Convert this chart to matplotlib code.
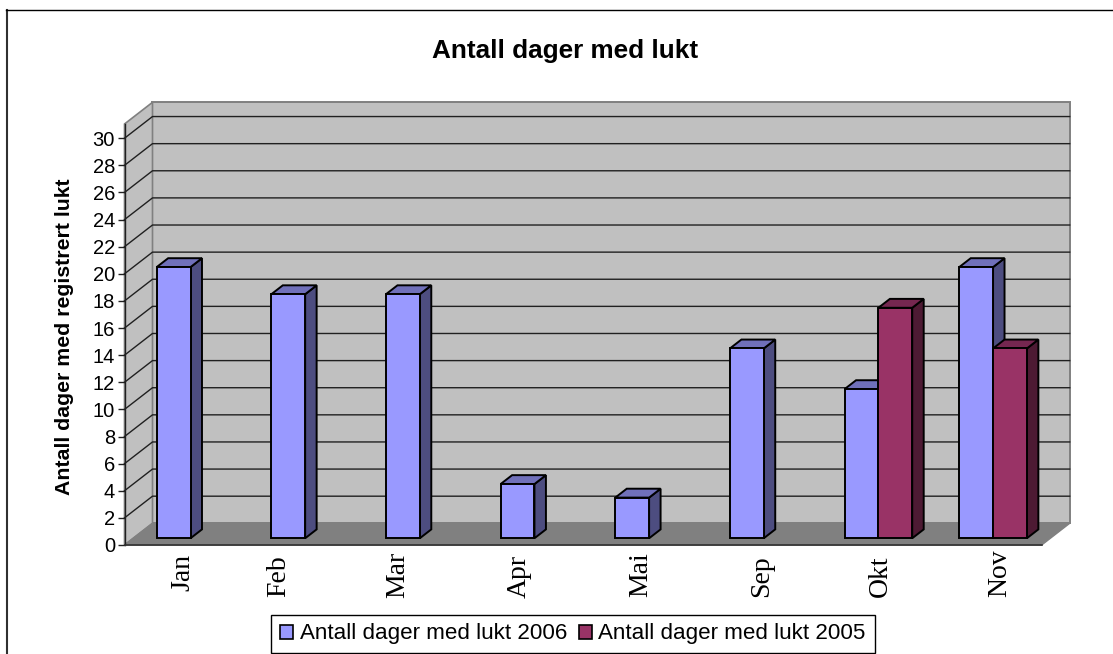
import matplotlib
matplotlib.use("Agg")
import matplotlib.pyplot as plt
from matplotlib.patches import Polygon, Patch
from matplotlib.lines import Line2D
from matplotlib.transforms import ScaledTranslation

months = ["Jan", "Feb", "Mar", "Apr", "Mai", "Sep", "Okt", "Nov"]
days_2006 = [20, 18, 18, 4, 3, 14, 11, 20]
days_2005 = [0, 0, 0, 0, 0, 0, 17, 14]
name_2006 = "Antall dager med lukt 2006"
name_2005 = "Antall dager med lukt 2005"
yticks = list(range(0, 31, 2))

W, H = 1113, 654
DPI = 100
L, R, B, T = 124.5, 1041.7, 545.0, 124.0      # front plane in pixels
YMAX = 31.05
BARW = 0.295
DX = 0.2442      # full depth in category units
DY = 1.60        # full depth in value units
COL = {"a": ("#9999FF", "#7070BA", "#4D4D80"), "b": ("#993366", "#752750", "#4D1A33")}

def P(x, y, d=0.0):
    return (x + d * DX, y + d * DY)

plt.rcParams["font.family"] = ["Liberation Sans", "DejaVu Sans"]
fig = plt.figure(figsize=(W / DPI, H / DPI), dpi=DPI, facecolor="white")

# outer frame: only the left and top edges fall inside the picture
fig.add_artist(Line2D([7 / W, 7 / W], [0, 1 - 9.5 / H], transform=fig.transFigure, color="#303030", lw=1.5))
fig.add_artist(Line2D([6 / W, 1], [1 - 9.5 / H, 1 - 9.5 / H], transform=fig.transFigure, color="black", lw=1.0))

ax = fig.add_axes([L / W, 1 - B / H, (R - L) / W, (B - T) / H])
ax.set_xlim(0, len(months))
ax.set_ylim(0, YMAX)
ax.patch.set_visible(False)
for s in ax.spines.values():
    s.set_visible(False)

n = len(months)
wall = "#C0C0C0"
edge = "#808080"
ax.add_patch(Polygon([P(0, 0, 1), P(n, 0, 1), P(n, YMAX, 1), P(0, YMAX, 1)], fc=wall, ec=edge, lw=1.4, clip_on=False, zorder=1))
ax.add_patch(Polygon([P(0, 0), P(0, 0, 1), P(0, YMAX, 1), P(0, YMAX)], fc=wall, ec=edge, lw=1.2, clip_on=False, zorder=1))
ax.add_patch(Polygon([P(0, 0), P(n, 0), P(n, 0, 1), P(0, 0, 1)], fc=edge, ec=edge, lw=1, clip_on=False, zorder=1.2))

for v in yticks[1:]:
    ax.plot(*zip(P(0, v), P(0, v, 1), P(n, v, 1)), color="#202020", lw=1.0, clip_on=False, zorder=1.5)
ax.plot(*zip(P(0, 0), P(0, YMAX)), color="#202020", lw=1.0, clip_on=False, zorder=2)
ax.plot(*zip(P(0, 0), P(n, 0)), color="#303030", lw=1.2, clip_on=False, zorder=2)

def bar(x, v, c, z):
    face, top, side = COL[c]
    d0, d1 = 0.31, 0.72
    kw = dict(edgecolor="black", linewidth=1.4, clip_on=False, joinstyle="miter", zorder=z)
    ax.add_patch(Polygon([P(x + BARW, 0, d0), P(x + BARW, 0, d1), P(x + BARW, v, d1), P(x + BARW, v, d0)], fc=side, **kw))
    ax.add_patch(Polygon([P(x, v, d0), P(x + BARW, v, d0), P(x + BARW, v, d1), P(x, v, d1)], fc=top, **kw))
    ax.add_patch(Polygon([P(x, 0, d0), P(x + BARW, 0, d0), P(x + BARW, v, d0), P(x, v, d0)], fc=face, **kw))

for i, (a, b) in enumerate(zip(days_2006, days_2005)):
    bar(i + 0.205, a, "a", 3 + i * 0.1)
    if b:
        bar(i + 0.205 + BARW, b, "b", 3.05 + i * 0.1)

ax.set_yticks(yticks, [str(v) for v in yticks])
ax.tick_params(axis="y", length=4.8, width=1, color="#202020", pad=2, labelsize=14.5)
ax.set_xticks([i + 0.5 for i in range(n)], months)
ax.tick_params(axis="x", length=0, pad=0)
# label placement is irregular in the source chart: pixel nudges from category centres
nudge_x = [1, -18, -13, -7, 0, 7, 11, 15]
centre_y = [572, 576, 575, 576, 575, 576, 576, 573]
for lab, nx, cy in zip(ax.get_xticklabels(), nudge_x, centre_y):
    lab.set_fontfamily("Liberation Serif")
    lab.set_fontsize(20)
    lab.set_rotation(90)
    lab.set_va("center")
    lab.set_ha("center")
    lab.set_transform(lab.get_transform() + ScaledTranslation(nx / DPI, (B - cy) / DPI, fig.dpi_scale_trans))

fig.text(565 / W, 1 - 51 / H, "Antall dager med lukt", ha="center", va="center", fontsize=18.8, fontweight="bold")
fig.text(65 / W, 1 - 337 / H, "Antall dager med registrert lukt", ha="center", va="center", rotation=90, fontsize=15.3, fontweight="bold")

handles = [Patch(fc=COL["a"][0], ec="black", lw=1.2, label=name_2006), Patch(fc=COL["b"][0], ec="black", lw=1.2, label=name_2005)]
leg = fig.legend(handles=handles, ncol=2, loc="center", bbox_to_anchor=(573 / W, 1 - 634 / H),
                 frameon=True, fancybox=False, edgecolor="black", framealpha=1, fontsize=16.1,
                 handlelength=0.58, handleheight=0.58, handletextpad=0.3, columnspacing=0.5, borderpad=0.4, borderaxespad=0)
leg.get_frame().set_linewidth(1.0)
fig.savefig("out.png", dpi=DPI)
